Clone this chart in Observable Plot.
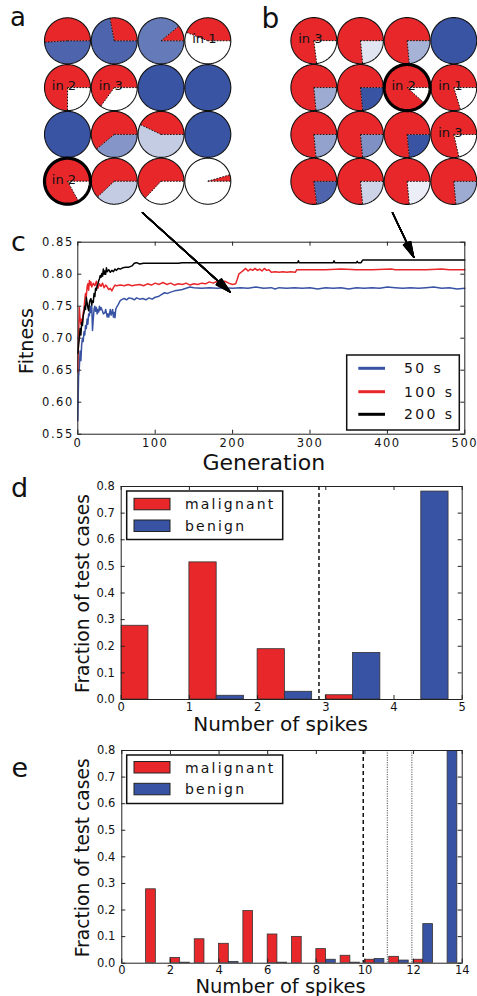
<!DOCTYPE html>
<html><head><meta charset="utf-8">
<script src="https://cdn.jsdelivr.net/npm/d3@7"></script>
<script src="https://cdn.jsdelivr.net/npm/@observablehq/plot@0.6"></script>
<style>
html,body{margin:0;padding:0;background:#fff;overflow:hidden;}
#page{position:relative;width:477px;height:996px;overflow:hidden;font-family:"DejaVu Sans",sans-serif;}
.plotc g[aria-label$="tick label"] text{letter-spacing:1.5px;}
</style></head><body><div id="page"></div>
<script>
// ---------------- data ----------------
const RED = "#e8272b", BLUE = "#3953a4";
const gridCols = 4;
// panel a: fraction of each circle that is red, shade (0 white .. 1 blue) of the remainder
const aRedFraction = [0.51,0.28,0.11,0.44, 0.75,0.65,0,0, 0,0.61,0.43,0, 0.83,0.62,0.63,0.045];
const aRestShade   = [0.9,0.9,0.78,0, 0,0,1,1, 1,0.62,0.3,1, 0,0.3,0,0];
const aLabels      = ["","","","in 1", "in 2","in 3","","", "","","","", "in 2","","",""];
const aHighlighted = [12];
// panel b
const bRedFraction = [0.77,0.765,0.765,0, 0.765,0.765,0.883,0.797, 0.765,0.765,0.765,0.786, 0.77,0.765,0.765,0.765];
const bRestShade   = [0,0.15,0.45,1, 0.5,1,0,0, 0.55,0.65,1,0, 0.9,0.25,0.1,0.5];
const bLabels      = ["in 3","","","", "","","in 2","in 1", "","","","in 3", "","","",""];
const bHighlighted = [6];

// panel c: [generation, fitness]
const fitness50s = [[0,0.571],[1,0.64],[2,0.655],[3,0.68],[4,0.665],[5,0.69],[6,0.7],[7,0.695],[8,0.71],[9,0.705],[10,0.72],[11,0.715],[12,0.73],[13,0.722],[14,0.738],[15,0.735],[16,0.75],[17,0.74],[18,0.752],[19,0.712],[20,0.73],[21,0.745],[22,0.75],[23,0.742],[24,0.748],[25,0.738],[26,0.745],[27,0.741],[28,0.75],[29,0.744],[30,0.748],[32,0.742],[33,0.738],[35,0.74],[36,0.745],[38,0.733],[39,0.738],[40,0.733],[42,0.745],[43,0.736],[44,0.74],[45,0.745],[46,0.733],[47,0.74],[48,0.732],[49,0.745],[50,0.748],[52,0.752],[55,0.759],[58,0.761],[60,0.762],[63,0.76],[66,0.763],[70,0.762],[73,0.76],[76,0.763],[80,0.761],[84,0.762],[88,0.76],[92,0.763],[96,0.761],[100,0.764],[104,0.765],[108,0.768],[112,0.771],[116,0.77],[120,0.772],[125,0.774],[130,0.775],[135,0.776],[140,0.778],[145,0.78],[150,0.779],[160,0.778],[170,0.779],[180,0.778],[190,0.779],[200,0.778],[210,0.779],[220,0.778],[230,0.78],[240,0.778],[250,0.779],[255,0.777],[260,0.779],[270,0.778],[280,0.779],[290,0.778],[300,0.779],[310,0.777],[320,0.779],[330,0.778],[340,0.779],[350,0.777],[360,0.779],[370,0.778],[380,0.779],[390,0.778],[400,0.78],[410,0.779],[420,0.778],[430,0.779],[440,0.778],[450,0.779],[460,0.78],[470,0.778],[480,0.779],[490,0.777],[500,0.778]];
const fitness100s = [[0,0.647],[1,0.7],[2,0.748],[3,0.73],[4,0.722],[5,0.73],[6,0.725],[7,0.74],[8,0.745],[9,0.76],[10,0.77],[11,0.765],[12,0.78],[13,0.785],[14,0.775],[15,0.79],[16,0.783],[17,0.788],[18,0.78],[20,0.786],[22,0.782],[24,0.789],[26,0.778],[28,0.785],[30,0.781],[32,0.786],[34,0.779],[36,0.783],[38,0.78],[40,0.776],[42,0.778],[44,0.774],[46,0.779],[48,0.783],[50,0.782],[55,0.783],[60,0.782],[65,0.784],[70,0.782],[75,0.783],[80,0.784],[85,0.782],[90,0.785],[95,0.783],[100,0.786],[105,0.784],[110,0.787],[115,0.784],[120,0.786],[125,0.783],[130,0.785],[135,0.784],[140,0.786],[145,0.783],[150,0.785],[155,0.784],[160,0.786],[165,0.785],[170,0.788],[175,0.786],[180,0.789],[185,0.787],[190,0.789],[195,0.786],[200,0.784],[204,0.785],[206,0.792],[208,0.8],[211,0.803],[214,0.806],[217,0.809],[220,0.805],[223,0.808],[226,0.806],[229,0.809],[232,0.806],[235,0.808],[238,0.805],[241,0.809],[244,0.806],[247,0.807],[250,0.803],[255,0.804],[260,0.803],[265,0.804],[270,0.803],[275,0.804],[281,0.803],[283,0.807],[300,0.807],[320,0.807],[340,0.808],[360,0.807],[380,0.807],[405,0.808],[410,0.807],[430,0.807],[450,0.807],[470,0.808],[480,0.807],[500,0.807]];
const fitness200s = [[0,0.676],[1,0.69],[2,0.7],[3,0.715],[4,0.705],[5,0.725],[6,0.72],[7,0.735],[8,0.74],[9,0.75],[10,0.745],[11,0.764],[12,0.755],[13,0.748],[14,0.743],[15,0.755],[16,0.76],[17,0.762],[18,0.752],[19,0.758],[20,0.756],[21,0.77],[22,0.765],[23,0.778],[24,0.775],[25,0.782],[26,0.785],[27,0.79],[28,0.793],[29,0.798],[30,0.795],[31,0.801],[32,0.797],[33,0.808],[34,0.8],[35,0.805],[36,0.8],[37,0.81],[38,0.804],[40,0.807],[42,0.803],[44,0.806],[46,0.804],[48,0.808],[50,0.806],[52,0.809],[55,0.808],[58,0.81],[62,0.811],[66,0.811],[70,0.813],[73,0.817],[76,0.818],[80,0.816],[85,0.817],[90,0.817],[100,0.817],[110,0.817],[120,0.817],[130,0.817],[135,0.818],[140,0.818],[200,0.818],[250,0.818],[284,0.818],[285,0.821],[286,0.818],[330,0.818],[331,0.821],[332,0.818],[360,0.818],[361,0.82],[362,0.818],[366,0.818],[368,0.822],[500,0.822]];
const cXTicks = [0,100,200,300,400,500];
const cYTicks = [0.55,0.60,0.65,0.70,0.75,0.80,0.85];
// arrows from the grids to generations 200 and ~435
const cArrows = [{x1:83.6, y1:0.896, x2:197, y2:0.772}, {x1:406.6, y1:0.896, x2:434, y2:0.8266}];
const legendC = ["50 s","100 s","200 s"];

// panel d
const dSpikes = [0,1,2,3,4];
const dMalignant = [0.277,0.515,0.189,0.016,0];
const dBenign = [0,0.014,0.029,0.175,0.781];
const dThreshold = [2.9];
const dXTicks = [0,1,2,3,4,5];
const dYTicks = [0,0.1,0.2,0.3,0.4,0.5,0.6,0.7,0.8];

// panel e
const eSpikes = [0,1,2,3,4,5,6,7,8,9,10,11,12,13];
const eMalignant = [0,0.278,0.020,0.090,0.073,0.196,0.108,0.099,0.053,0.028,0.013,0.024,0.013,0];
const eBenign = [0,0,0.002,0,0.005,0,0.002,0,0.013,0.002,0.016,0.010,0.147,0.83];
const eThresholdDashed = [9.93];
const eThresholdDotted = [10.92,11.93];
const eXTicks = [0,2,4,6,8,10,12,14];
const eYTicks = dYTicks;
const legendClasses = ["malignant","benign"];

// ---------------- drawing ----------------
const page = document.getElementById("page");
const baseStyle = (left, top) => ({position:"absolute", left:left+"px", top:top+"px", background:"transparent", overflow:"visible", fontFamily:"DejaVu Sans, sans-serif", color:"#111"});

function gridPlot(redF, shade, labels, highlighted, left, top, w, h, m) {
  const R = 0.4915, step = Math.PI/90;
  const cells = redF.map((f,i)=>({id:i, col:i%gridCols, row:Math.floor(i/gridCols), f, s:shade[i], label:labels[i], hl:highlighted.includes(i)}));
  const wedge = (c, a0, a1, center) => {
    const pts = center ? [{id:c.id, x:c.col, y:c.row, s:c.s, hl:c.hl}] : [];
    const n = Math.max(2, Math.ceil((a1-a0)/step));
    for (let k=0;k<=n;k++){ const a=a0+(a1-a0)*k/n; pts.push({id:c.id, x:c.col+R*Math.cos(a), y:c.row-R*Math.sin(a), s:c.s, hl:c.hl}); }
    return pts;
  };
  const redPts = cells.filter(c=>c.f>0).flatMap(c=>wedge(c,0,2*Math.PI*c.f,c.f<1));
  const restPts = cells.filter(c=>c.f<1).flatMap(c=>wedge(c,2*Math.PI*c.f,2*Math.PI,c.f>0));
  const ringPts = cells.flatMap(c=>wedge(c,0,2*Math.PI,false));
  const radii = cells.filter(c=>c.f>0&&c.f<1).flatMap(c=>[{c,a:0},{c,a:2*Math.PI*c.f}]);
  return Plot.plot({
    width:w, height:h, marginLeft:m[0], marginRight:m[1], marginTop:m[2], marginBottom:m[3],
    style: baseStyle(left, top),
    x:{domain:[-0.5,3.5], axis:null}, y:{domain:[3.5,-0.5], axis:null},
    color:{type:"linear", domain:[0,1], range:["#ffffff","#3a54a4"], interpolate:"rgb"},
    marks:[
      Plot.line(restPts, {x:"x", y:"y", z:"id", fill:"s", stroke:"none", curve:"linear"}),
      Plot.line(redPts, {x:"x", y:"y", z:"id", fill:RED, stroke:"none", curve:"linear"}),
      Plot.link(radii, {x1:d=>d.c.col, y1:d=>d.c.row, x2:d=>d.c.col+R*Math.cos(d.a), y2:d=>d.c.row-R*Math.sin(d.a), stroke:"#111", strokeWidth:1, strokeDasharray:"1.6,1.4"}),
      Plot.line(ringPts.filter(p=>!p.hl), {x:"x", y:"y", z:"id", stroke:"#111", strokeWidth:1.1}),
      Plot.line(ringPts.filter(p=>p.hl), {x:"x", y:"y", z:"id", stroke:"#000", strokeWidth:3.2}),
      Plot.text(cells.filter(c=>c.label), {x:"col", y:"row", text:"label", dx:-3.5, dy:-1.7, fontSize:13, fill:"#111"})
    ]
  });
}

page.appendChild(gridPlot(aRedFraction, aRestShade, aLabels, aHighlighted, 0, 0, 240, 210, [43.6, 9.3, 16.9, 5.9]));
page.appendChild(gridPlot(bRedFraction, bRestShade, bLabels, bHighlighted, 240, 0, 237, 210, [50, 0.4, 16.7, 5.7]));

function innerTicks(xt, yt, W, H) {
  return [
    Plot.ruleX(xt, {x:d=>d, insetTop:H-4, stroke:"#222"}),
    Plot.ruleX(xt, {x:d=>d, insetBottom:H-4, stroke:"#222"}),
    Plot.ruleY(yt, {y:d=>d, insetRight:W-4, stroke:"#222"}),
    Plot.ruleY(yt, {y:d=>d, insetLeft:W-4, stroke:"#222"})
  ];
}

// panel c
{
  const W = 477, H = 280, ml = 77.3, mr = 12.7, mt = 41.7, mb = 46.3;
  const headAngles = [3,6,9,12,15,18,21,24,27,30];
  const svg = Plot.plot({
    width:W, height:H, marginLeft:ml, marginRight:mr, marginTop:mt, marginBottom:mb,
    style: baseStyle(0, 200),
    x:{domain:[0,500]}, y:{domain:[0.55,0.85]},
    marks:[
      Plot.line(fitness50s, {x:d=>d[0], y:d=>d[1], stroke:BLUE, strokeWidth:1.5}),
      Plot.line(fitness100s, {x:d=>d[0], y:d=>d[1], stroke:RED, strokeWidth:1.5}),
      Plot.line(fitness200s, {x:d=>d[0], y:d=>d[1], stroke:"#000", strokeWidth:1.5}),
      Plot.frame({stroke:"#222"}),
      ...innerTicks(cXTicks, cYTicks, W-ml-mr, H-mt-mb),
      Plot.axisX(cXTicks, {tickSize:0, tickPadding:4.7, fontSize:11.5, tickFormat:d=>String(d), label:null}),
      Plot.axisY(cYTicks, {tickSize:0, tickPadding:4.1, fontSize:11.5, tickFormat:d3.format(".2f"), label:null}),
      Plot.text(["Generation"], {frameAnchor:"bottom", textAnchor:"middle", lineAnchor:"bottom", dx:-7.5, dy:35.6, fontSize:22}),
      Plot.text(["Fitness"], {frameAnchor:"left", textAnchor:"middle", lineAnchor:"bottom", rotate:-90, dx:-45, dy:2.8, fontSize:19, ariaLabel:"fitness"}),
      Plot.arrow(cArrows, {x1:"x1", y1:"y1", x2:"x2", y2:"y2", headLength:0, strokeWidth:1.2, stroke:"#000"}),
      ...headAngles.map(a => Plot.arrow(cArrows, {x1:"x1", y1:"y1", x2:"x2", y2:"y2", headAngle:a, headLength:17, strokeWidth:1.4, stroke:"#000"}))
    ]
  });
  svg.classList.add("plotc");
  d3.select(svg).selectAll('g[aria-label="fitness"] text').each(function(){ this.setAttribute("transform", (this.getAttribute("transform")||"") + " scale(1,1.35)"); });
  page.appendChild(svg);
}

function spikesPlot(spikes, mal, ben, xDomain, xt, yt, top, H, ml, mr, mt, mb, rules, labelDx, labelDy, labelSize, ylabDx, ylabDy) {
  const W = 477, barWidth = 0.4;
  const malRows = spikes.map((k,i)=>({k, v:mal[i]})).filter(d=>d.v>0);
  const benRows = spikes.map((k,i)=>({k, v:ben[i]})).filter(d=>d.v>0);
  return Plot.plot({
    width:W, height:H, marginLeft:ml, marginRight:mr, marginTop:mt, marginBottom:mb,
    style: baseStyle(0, top),
    x:{domain:xDomain}, y:{domain:[0,0.8]},
    marks:[
      Plot.rect(malRows, {x1:d=>d.k, x2:d=>d.k+barWidth, y1:()=>0, y2:"v", fill:RED, stroke:"#333", strokeWidth:0.8, clip:true}),
      Plot.rect(benRows, {x1:d=>d.k+barWidth, x2:d=>d.k+2*barWidth, y1:()=>0, y2:"v", fill:BLUE, stroke:"#333", strokeWidth:0.8, clip:true}),
      ...rules,
      Plot.frame({stroke:"#222"}),
      ...innerTicks(xt, yt, W-ml-mr, H-mt-mb),
      Plot.axisX(xt, {tickSize:0, tickPadding:3.1, fontSize:11.5, tickFormat:d=>String(d), label:null}),
      Plot.axisY(yt, {tickSize:0, tickPadding:6.5, fontSize:11.5, tickFormat:d3.format(".1f"), label:null}),
      Plot.text(["Number of spikes"], {frameAnchor:"bottom", textAnchor:"middle", lineAnchor:"bottom", dx:labelDx, dy:labelDy, fontSize:labelSize}),
      Plot.text(["Fraction of test cases"], {frameAnchor:"left", textAnchor:"middle", lineAnchor:"bottom", rotate:-90, dx:ylabDx, dy:ylabDy, fontSize:18.7, ariaLabel:"fraction"})
    ]
  });
}

page.appendChild(spikesPlot(dSpikes, dMalignant, dBenign, [0,5], dXTicks, dYTicks, 480, 260, 120.7, 15.3, 6, 41,
  [Plot.ruleX(dThreshold, {x:d=>d, stroke:"#111", strokeWidth:1.5, strokeDasharray:"4,3"})], -11.2, 31, 20, -32.4, 0.5));
page.appendChild(spikesPlot(eSpikes, eMalignant, eBenign, [0,14], eXTicks, eYTicks, 740, 256, 121.3, 15.3, 10, 33.3,
  [Plot.ruleX(eThresholdDashed, {x:d=>d, stroke:"#111", strokeWidth:1.5, strokeDasharray:"4,3"}),
   Plot.ruleX(eThresholdDotted, {x:d=>d, stroke:"#555", strokeWidth:1, strokeDasharray:"1.2,1.2"})], -11.5, 29.6, 19.5, -33, 1));

// ---------------- overlay: panel letters and legends ----------------
const ov = d3.select(page).append("svg").attr("width",477).attr("height",996)
  .style("position","absolute").style("left","0px").style("top","0px").style("overflow","visible")
  .attr("font-family","DejaVu Sans, sans-serif");
const letters = [["a",10,26,26],["b",261.5,28.3,28],["c",11,250.7,27],["d",11,496.7,27],["e",11.5,776.7,27]];
ov.selectAll("text.letter").data(letters).join("text").attr("class","letter")
  .attr("x",d=>d[1]).attr("y",d=>d[2]).attr("font-size",d=>d[3]).attr("fill","#111").text(d=>d[0]);

// legend c
{
  const g = ov.append("g");
  g.append("rect").attr("x",346.7).attr("y",355).attr("width",112.6).attr("height",75).attr("fill","#fff").attr("stroke","#111").attr("stroke-width",1.5);
  const cols = [BLUE, RED, "#000"], ys = [368.3, 391.7, 414.3];
  legendC.forEach((t,i)=>{
    g.append("line").attr("x1",358.3).attr("x2",385).attr("y1",ys[i]).attr("y2",ys[i]).attr("stroke",cols[i]).attr("stroke-width",3);
    g.append("text").attr("x",404).attr("y",ys[i]+5).attr("font-size",14).attr("letter-spacing","2.4px").attr("fill","#111").text(t);
  });
}
function spikeLegend(top, swY, txtY) {
  const g = ov.append("g");
  g.append("rect").attr("x",126.7).attr("y",top).attr("width",156).attr("height",48.5).attr("fill","#fff").attr("stroke","#111").attr("stroke-width",1.5);
  const cols = [RED, BLUE];
  legendClasses.forEach((t,i)=>{
    g.append("rect").attr("x",134).attr("y",swY[i]).attr("width",36).attr("height",11.5).attr("fill",cols[i]).attr("stroke","#222").attr("stroke-width",1);
    g.append("text").attr("x",185).attr("y",txtY[i]).attr("font-size",14).attr("letter-spacing","2.2px").attr("fill","#111").text(t);
  });
}
spikeLegend(491, [498.3, 520], [509.3, 531]);
spikeLegend(755, [761.5, 783.3], [772.7, 794.3]);
</script></body></html>
